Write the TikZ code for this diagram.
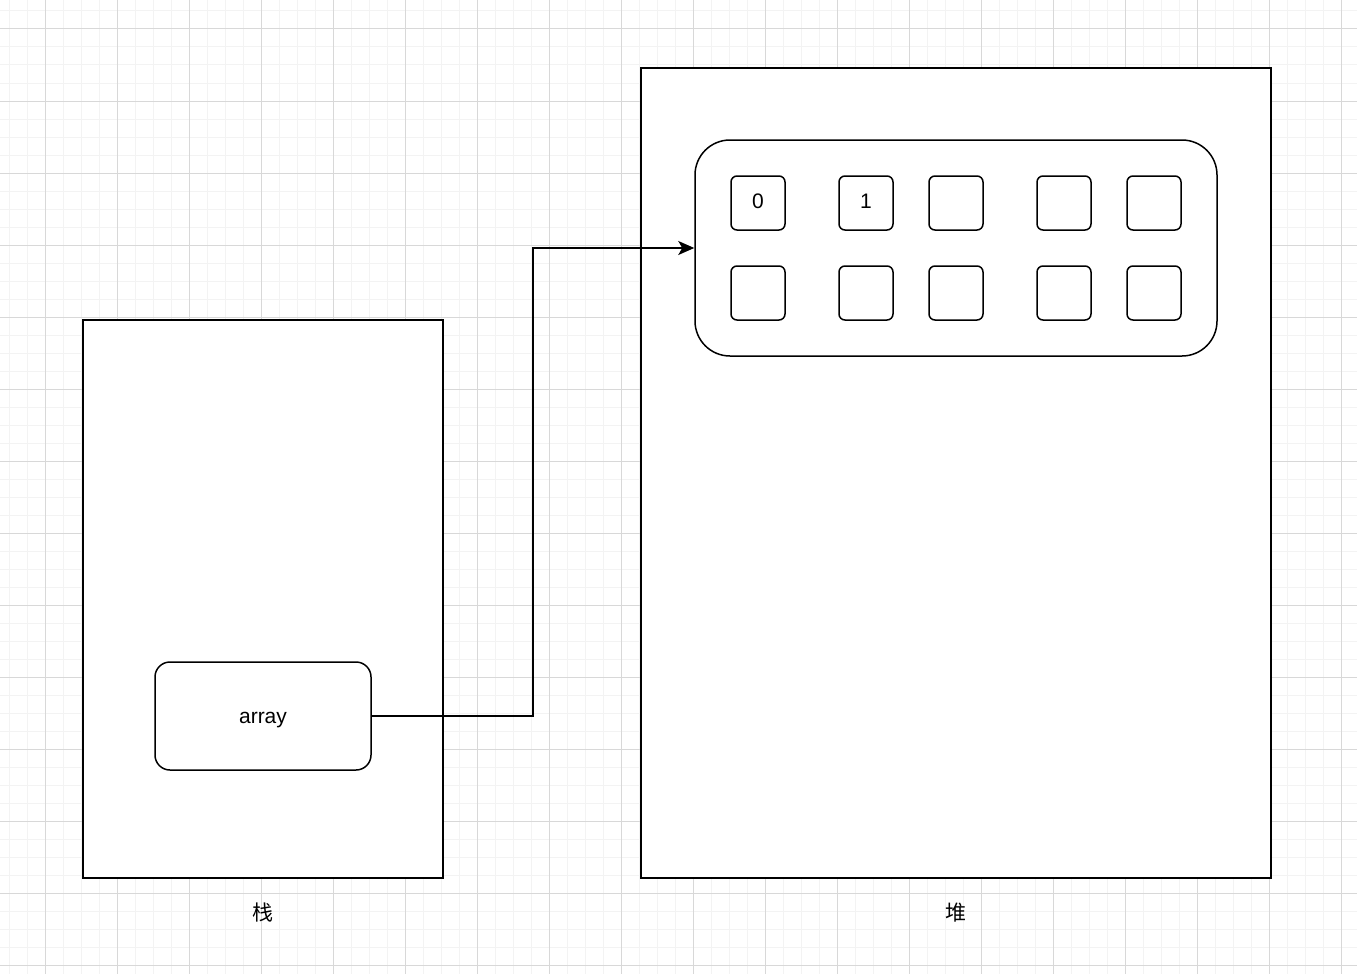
\documentclass[tikz,border=0pt]{standalone}
\usepackage{fontspec}
\setmainfont{Liberation Sans}
\newfontfamily\cjk{Noto Sans CJK SC}
\usetikzlibrary{arrows.meta}
\definecolor{gmajor}{RGB}{216,216,216}
\definecolor{gminor}{RGB}{243,243,243}
\begin{document}
\begin{tikzpicture}[x=1pt,y=-1pt,
  panel/.style={draw=black,line width=1.5pt,fill=white},
  cell/.style={draw=black,line width=1.5pt,fill=white,rounded corners=6pt,minimum width=54pt,minimum height=54pt,inner sep=0pt,font=\fontsize{21}{24}\selectfont,text height=11pt,text depth=0pt},
  conn/.style={draw=black,line width=1.5pt,-{Stealth[length=16pt,width=14pt,inset=4pt]}},
  lbl/.style={font=\cjk\fontsize{21}{24}\selectfont}]
\useasboundingbox (0,0) rectangle (1357,974);
\fill[white] (0,0) rectangle (1357,974);
% grid
\foreach \i in {0,...,76} {\draw[gminor,line width=1pt] ({9+18*\i},0) -- ({9+18*\i},974);}
\foreach \i in {0,...,54} {\draw[gminor,line width=1pt] (0,{11+18*\i}) -- (1357,{11+18*\i});}
\foreach \i in {0,...,18} {\draw[gmajor,line width=1pt] ({45+72*\i},0) -- ({45+72*\i},974);}
\foreach \i in {0,...,13} {\draw[gmajor,line width=1pt] (0,{29+72*\i}) -- (1357,{29+72*\i});}
% stack
\node[panel,minimum width=360pt,minimum height=558pt,inner sep=0pt] (stack) at (263,599) {};
\node[lbl] (stacklbl) at (263,913) {栈};
\node[draw=black,line width=1.5pt,fill=white,rounded corners=15pt,minimum width=216pt,minimum height=108pt,inner sep=0pt,font=\fontsize{21}{24}\selectfont,text height=19pt,text depth=4.4pt] (array) at (263,716) {array};
% heap
\node[panel,minimum width=630pt,minimum height=810pt,inner sep=0pt] (heap) at (956,473) {};
\node[lbl] (heaplbl) at (956,913) {堆};
\node[draw=black,line width=1.5pt,fill=white,rounded corners=35pt,minimum width=522pt,minimum height=216pt,inner sep=0pt] (arr) at (956,248) {};
\node[cell] (c00) at (758,203) {0};
\node[cell] (c01) at (866,203) {1};
\node[cell] (c02) at (956,203) {};
\node[cell] (c03) at (1064,203) {};
\node[cell] (c04) at (1154,203) {};
\node[cell] (c10) at (758,293) {};
\node[cell] (c11) at (866,293) {};
\node[cell] (c12) at (956,293) {};
\node[cell] (c13) at (1064,293) {};
\node[cell] (c14) at (1154,293) {};
\coordinate (b1) at (533,716);
\coordinate (b2) at (533,248);
\draw[conn] (array.east) -- (b1) -- (b2) -- (arr.west);
\end{tikzpicture}
\end{document}
